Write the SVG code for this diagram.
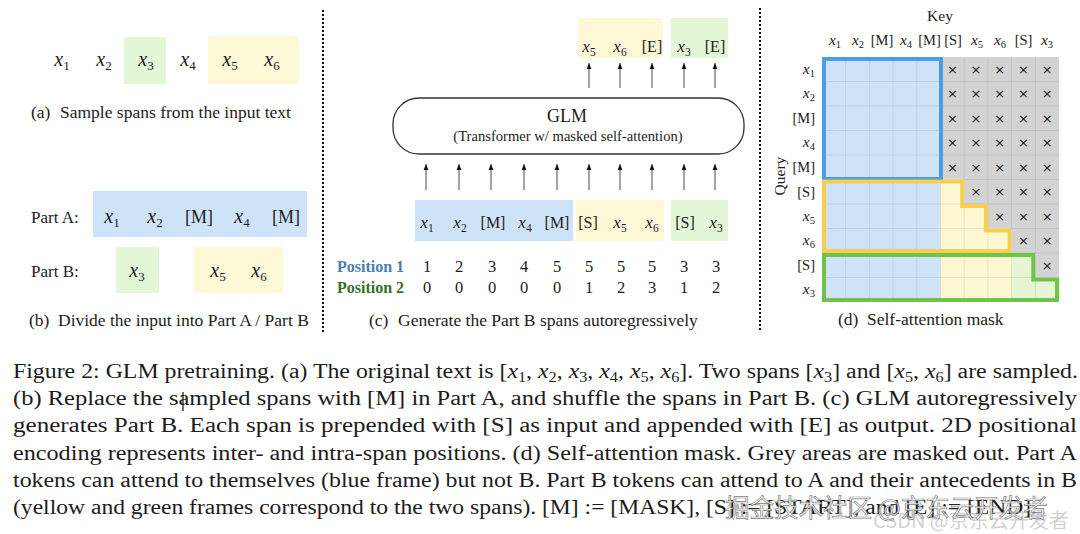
<svg xmlns="http://www.w3.org/2000/svg" width="1080" height="534" viewBox="0 0 1080 534">
<defs>
<style>
.s{font-family:"Liberation Serif","Times New Roman",serif;fill:#1c1c1c}
.i{font-style:italic}
.tk{font-size:18px;text-anchor:middle}
.tc{font-size:16px;text-anchor:middle}
.td{font-size:14.5px}
.mid{text-anchor:middle}
.end{text-anchor:end}
.lab{font-size:17px}
.sc{font-size:17.5px}
.num{font-size:16.5px;text-anchor:middle}
.cap{font-size:20.5px}
.sep{stroke:#111;stroke-width:2;stroke-dasharray:2 2;fill:none}
.arr{stroke:#666;stroke-width:1.2;fill:none;marker-end:url(#ah)}
.bl{fill:#cfe3f8}
.ye{fill:#fdf9d7}
.gr{fill:#e3f6d6}
.xm{font-family:"DejaVu Sans",sans-serif;font-size:13px;fill:#222;text-anchor:middle}
</style>
<marker id="ah" viewBox="0 0 10 10" refX="10" refY="5" markerWidth="6" markerHeight="6" markerUnits="userSpaceOnUse" orient="auto"><path d="M0,1 L10,5 L0,9 z" fill="#111"/></marker>
</defs>
<rect width="1080" height="534" fill="#fff"/>

<g id="separators">
<line class="sep" x1="323" y1="10" x2="323" y2="332"/>
<line class="sep" x1="760" y1="8" x2="760" y2="332"/>
</g>

<g id="panel-a">
<rect class="gr" x="124" y="37" width="42" height="47"/>
<rect class="ye" x="208" y="36" width="91" height="48"/>
<text class="s tk" x="62" y="66"><tspan class="i" font-size="20">x</tspan><tspan font-size="13" dy="4">1</tspan></text>
<text class="s tk" x="104" y="66"><tspan class="i" font-size="20">x</tspan><tspan font-size="13" dy="4">2</tspan></text>
<text class="s tk" x="146" y="66"><tspan class="i" font-size="20">x</tspan><tspan font-size="13" dy="4">3</tspan></text>
<text class="s tk" x="188" y="66"><tspan class="i" font-size="20">x</tspan><tspan font-size="13" dy="4">4</tspan></text>
<text class="s tk" x="230" y="66"><tspan class="i" font-size="20">x</tspan><tspan font-size="13" dy="4">5</tspan></text>
<text class="s tk" x="272" y="66"><tspan class="i" font-size="20">x</tspan><tspan font-size="13" dy="4">6</tspan></text>
<text class="s sc" x="31" y="118">(a)</text>
<text class="s sc" x="60" y="118">Sample spans from the input text</text>
</g>

<g id="panel-b">
<rect class="bl" x="93" y="191" width="214" height="46"/>
<rect class="gr" x="116" y="247" width="43" height="46"/>
<rect class="ye" x="194" y="247" width="89" height="46"/>
<text class="s lab" x="31" y="223">Part A:</text>
<text class="s lab" x="31" y="277">Part B:</text>
<text class="s tk" x="112" y="223"><tspan class="i" font-size="20">x</tspan><tspan font-size="13" dy="4">1</tspan></text>
<text class="s tk" x="155" y="223"><tspan class="i" font-size="20">x</tspan><tspan font-size="13" dy="4">2</tspan></text>
<text class="s tk" x="199" y="223">[M]</text>
<text class="s tk" x="242" y="223"><tspan class="i" font-size="20">x</tspan><tspan font-size="13" dy="4">4</tspan></text>
<text class="s tk" x="286" y="223">[M]</text>
<text class="s tk" x="137" y="277"><tspan class="i" font-size="20">x</tspan><tspan font-size="13" dy="4">3</tspan></text>
<text class="s tk" x="218" y="277"><tspan class="i" font-size="20">x</tspan><tspan font-size="13" dy="4">5</tspan></text>
<text class="s tk" x="259" y="277"><tspan class="i" font-size="20">x</tspan><tspan font-size="13" dy="4">6</tspan></text>
<text class="s sc" x="29" y="326">(b)</text>
<text class="s sc" x="58" y="326">Divide the input into Part A / Part B</text>
</g>

<g id="panel-c-output">
<rect class="ye" x="578" y="18" width="85" height="40"/>
<rect class="gr" x="671" y="18" width="57" height="40"/>
<text class="s tc" x="589" y="52"><tspan class="i" font-size="17">x</tspan><tspan font-size="11.5" dy="3.5">5</tspan></text>
<text class="s tc" x="620" y="52"><tspan class="i" font-size="17">x</tspan><tspan font-size="11.5" dy="3.5">6</tspan></text>
<text class="s tc" x="652" y="52">[E]</text>
<text class="s tc" x="684" y="52"><tspan class="i" font-size="17">x</tspan><tspan font-size="11.5" dy="3.5">3</tspan></text>
<text class="s tc" x="715" y="52">[E]</text>
</g>

<g id="glm">
<rect x="393" y="98" width="351" height="56" rx="26" ry="26" fill="#fff" stroke="#333" stroke-width="1.3"/>
<text class="s mid" x="567" y="122" font-size="18">GLM</text>
<text class="s mid" x="568" y="141" font-size="14.6">(Transformer w/ masked self-attention)</text>
</g>

<g id="connectors">
<line class="arr" x1="589" y1="88" x2="589" y2="63"/>
<line class="arr" x1="620" y1="88" x2="620" y2="63"/>
<line class="arr" x1="652" y1="88" x2="652" y2="63"/>
<line class="arr" x1="684" y1="88" x2="684" y2="63"/>
<line class="arr" x1="715" y1="88" x2="715" y2="63"/>
<line class="arr" x1="426" y1="190" x2="426" y2="164"/>
<line class="arr" x1="459" y1="190" x2="459" y2="164"/>
<line class="arr" x1="491" y1="190" x2="491" y2="164"/>
<line class="arr" x1="524" y1="190" x2="524" y2="164"/>
<line class="arr" x1="557" y1="190" x2="557" y2="164"/>
<line class="arr" x1="589" y1="190" x2="589" y2="164"/>
<line class="arr" x1="620" y1="190" x2="620" y2="164"/>
<line class="arr" x1="652" y1="190" x2="652" y2="164"/>
<line class="arr" x1="684" y1="190" x2="684" y2="164"/>
<line class="arr" x1="715" y1="190" x2="715" y2="164"/>
</g>

<g id="panel-c-input">
<rect class="bl" x="415" y="200" width="158" height="41"/>
<rect class="ye" x="576" y="200" width="88" height="41"/>
<rect class="gr" x="671" y="200" width="57" height="41"/>
<text class="s tc" x="427" y="228"><tspan class="i" font-size="17">x</tspan><tspan font-size="11.5" dy="3.5">1</tspan></text>
<text class="s tc" x="460" y="228"><tspan class="i" font-size="17">x</tspan><tspan font-size="11.5" dy="3.5">2</tspan></text>
<text class="s tc" x="493" y="228">[M]</text>
<text class="s tc" x="525" y="228"><tspan class="i" font-size="17">x</tspan><tspan font-size="11.5" dy="3.5">4</tspan></text>
<text class="s tc" x="557" y="228">[M]</text>
<text class="s tc" x="588" y="228">[S]</text>
<text class="s tc" x="620" y="228"><tspan class="i" font-size="17">x</tspan><tspan font-size="11.5" dy="3.5">5</tspan></text>
<text class="s tc" x="652" y="228"><tspan class="i" font-size="17">x</tspan><tspan font-size="11.5" dy="3.5">6</tspan></text>
<text class="s tc" x="685" y="228">[S]</text>
<text class="s tc" x="716" y="228"><tspan class="i" font-size="17">x</tspan><tspan font-size="11.5" dy="3.5">3</tspan></text>
</g>

<g id="positions">
<text x="337" y="272" font-family="Liberation Serif, serif" font-weight="bold" font-size="16" fill="#4a7db3">Position 1</text>
<text x="337" y="293" font-family="Liberation Serif, serif" font-weight="bold" font-size="16" fill="#37702a">Position 2</text>
<text class="s num" x="427" y="272">1</text><text class="s num" x="459" y="272">2</text><text class="s num" x="492" y="272">3</text><text class="s num" x="524" y="272">4</text><text class="s num" x="557" y="272">5</text><text class="s num" x="589" y="272">5</text><text class="s num" x="621" y="272">5</text><text class="s num" x="652" y="272">5</text><text class="s num" x="684" y="272">3</text><text class="s num" x="716" y="272">3</text>
<text class="s num" x="427" y="293">0</text><text class="s num" x="459" y="293">0</text><text class="s num" x="492" y="293">0</text><text class="s num" x="524" y="293">0</text><text class="s num" x="557" y="293">0</text><text class="s num" x="589" y="293">1</text><text class="s num" x="621" y="293">2</text><text class="s num" x="652" y="293">3</text><text class="s num" x="684" y="293">1</text><text class="s num" x="716" y="293">2</text>
<text class="s sc" x="369" y="326">(c)</text>
<text class="s sc" x="398" y="326">Generate the Part B spans autoregressively</text>
</g>

<g id="panel-d-mask">
<rect class="bl" x="822" y="57" width="118.5" height="245"/>
<path fill="#d3d3d3" d="M940.5,57 H1059 V277.5 H1035.3 V253 H1011.6 V228.5 H987.9 V204 H964.2 V179.5 H940.5 Z"/>
<path fill="#fdf8d2" d="M940.5,179.5 H964.2 V204 H987.9 V228.5 H1011.6 V302 H940.5 Z"/>
<path fill="#e4f6d4" d="M1011.6,253 H1035.3 V277.5 H1059 V302 H1011.6 Z"/>
<path stroke="#000" stroke-opacity="0.08" stroke-width="1" fill="none" d="M845.7,57V302 M869.4,57V302 M893.1,57V302 M916.8,57V302 M940.5,57V302 M964.2,57V302 M987.9,57V302 M1011.6,57V302 M1035.3,57V302 M822,81.5H1059 M822,106H1059 M822,130.5H1059 M822,155H1059 M822,179.5H1059 M822,204H1059 M822,228.5H1059 M822,253H1059 M822,277.5H1059"/>
<text class="xm" x="952.35 976.05 999.75 1023.45 1047.15" y="73.75">×××××</text>
<text class="xm" x="952.35 976.05 999.75 1023.45 1047.15" y="98.25">×××××</text>
<text class="xm" x="952.35 976.05 999.75 1023.45 1047.15" y="122.75">×××××</text>
<text class="xm" x="952.35 976.05 999.75 1023.45 1047.15" y="147.25">×××××</text>
<text class="xm" x="952.35 976.05 999.75 1023.45 1047.15" y="171.75">×××××</text>
<text class="xm" x="976.05 999.75 1023.45 1047.15" y="196.25">××××</text>
<text class="xm" x="999.75 1023.45 1047.15" y="220.75">×××</text>
<text class="xm" x="1023.45 1047.15" y="245.25">××</text>
<text class="xm" x="1047.15" y="269.75">×</text>
<rect x="824" y="59" width="117" height="120" fill="none" stroke="#4b9de6" stroke-width="4"/>
<path fill="none" stroke="#f6cf4e" stroke-width="4" d="M824,181.5 H962.2 V206 H985.9 V230.5 H1009.6 V251 H824 Z"/>
<path fill="none" stroke="#70c24b" stroke-width="4" d="M824,255 H1033.3 V279.5 H1057 V300 H824 Z"/>
</g>

<g id="panel-d-labels">
<text class="s mid" x="940" y="21" font-size="15.5">Key</text>
<text class="s td mid" x="835" y="45"><tspan class="i" font-size="15.5">x</tspan><tspan font-size="10.5" dy="3">1</tspan></text>
<text class="s td mid" x="858" y="45"><tspan class="i" font-size="15.5">x</tspan><tspan font-size="10.5" dy="3">2</tspan></text>
<text class="s td mid" x="882" y="45">[M]</text>
<text class="s td mid" x="906" y="45"><tspan class="i" font-size="15.5">x</tspan><tspan font-size="10.5" dy="3">4</tspan></text>
<text class="s td mid" x="929.5" y="45">[M]</text>
<text class="s td mid" x="953" y="45">[S]</text>
<text class="s td mid" x="977" y="45"><tspan class="i" font-size="15.5">x</tspan><tspan font-size="10.5" dy="3">5</tspan></text>
<text class="s td mid" x="1000" y="45"><tspan class="i" font-size="15.5">x</tspan><tspan font-size="10.5" dy="3">6</tspan></text>
<text class="s td mid" x="1023.5" y="45">[S]</text>
<text class="s td mid" x="1047" y="45"><tspan class="i" font-size="15.5">x</tspan><tspan font-size="10.5" dy="3">3</tspan></text>
<text class="s td end" x="815" y="73.5"><tspan class="i" font-size="15.5">x</tspan><tspan font-size="10.5" dy="3">1</tspan></text>
<text class="s td end" x="815" y="98"><tspan class="i" font-size="15.5">x</tspan><tspan font-size="10.5" dy="3">2</tspan></text>
<text class="s td end" x="815" y="123">[M]</text>
<text class="s td end" x="815" y="147"><tspan class="i" font-size="15.5">x</tspan><tspan font-size="10.5" dy="3">4</tspan></text>
<text class="s td end" x="815" y="172">[M]</text>
<text class="s td end" x="815" y="196.5">[S]</text>
<text class="s td end" x="815" y="220.5"><tspan class="i" font-size="15.5">x</tspan><tspan font-size="10.5" dy="3">5</tspan></text>
<text class="s td end" x="815" y="245"><tspan class="i" font-size="15.5">x</tspan><tspan font-size="10.5" dy="3">6</tspan></text>
<text class="s td end" x="815" y="270">[S]</text>
<text class="s td end" x="815" y="294"><tspan class="i" font-size="15.5">x</tspan><tspan font-size="10.5" dy="3">3</tspan></text>
<text class="s mid" font-size="15.5" transform="translate(785,176) rotate(-90)">Query</text>
<text class="s sc" x="838" y="325">(d)</text>
<text class="s sc" x="867" y="325">Self-attention mask</text>
</g>

<g id="caption">
<text class="s cap" x="13" y="378" textLength="1065" lengthAdjust="spacingAndGlyphs">Figure 2: GLM pretraining. (a) The original text is [<tspan class="i">x</tspan><tspan font-size="14" dy="4">1</tspan><tspan dy="-4">, </tspan><tspan class="i">x</tspan><tspan font-size="14" dy="4">2</tspan><tspan dy="-4">, </tspan><tspan class="i">x</tspan><tspan font-size="14" dy="4">3</tspan><tspan dy="-4">, </tspan><tspan class="i">x</tspan><tspan font-size="14" dy="4">4</tspan><tspan dy="-4">, </tspan><tspan class="i">x</tspan><tspan font-size="14" dy="4">5</tspan><tspan dy="-4">, </tspan><tspan class="i">x</tspan><tspan font-size="14" dy="4">6</tspan><tspan dy="-4">]. Two spans [</tspan><tspan class="i">x</tspan><tspan font-size="14" dy="4">3</tspan><tspan dy="-4">] and [</tspan><tspan class="i">x</tspan><tspan font-size="14" dy="4">5</tspan><tspan dy="-4">, </tspan><tspan class="i">x</tspan><tspan font-size="14" dy="4">6</tspan><tspan dy="-4">] are sampled.</tspan></text>
<text class="s cap" x="13" y="405" textLength="1064" lengthAdjust="spacingAndGlyphs">(b) Replace the sampled spans with [M] in Part A, and shuffle the spans in Part B. (c) GLM autoregressively</text>
<line x1="183" y1="392" x2="183" y2="411" stroke="#111" stroke-width="1.2"/>
<text class="s cap" x="13" y="432" textLength="1064" lengthAdjust="spacingAndGlyphs">generates Part B. Each span is prepended with [S] as input and appended with [E] as output.  2D positional</text>
<text class="s cap" x="13" y="460" textLength="1064" lengthAdjust="spacingAndGlyphs">encoding represents inter- and intra-span positions. (d) Self-attention mask. Grey areas are masked out. Part A</text>
<text class="s cap" x="13" y="487" textLength="1064" lengthAdjust="spacingAndGlyphs">tokens can attend to themselves (blue frame) but not B. Part B tokens can attend to A and their antecedents in B</text>
<text class="s cap" x="13" y="514" textLength="1024" lengthAdjust="spacingAndGlyphs">(yellow and green frames correspond to the two spans). [M] := [MASK], [S] := [START], and [E] := [END].</text>
</g>

<g id="watermark">
<text x="725" y="517" font-family="Noto Sans CJK SC, sans-serif" font-size="24.5" fill="#fff" fill-opacity="0.8" stroke="#555" stroke-width="0.7" stroke-opacity="0.8">掘金技术社区 @京东云开发者</text>
<text x="873" y="528" font-family="Noto Sans CJK SC, sans-serif" font-size="20" fill="#aaa" fill-opacity="0.55">CSDN @京东云开发者</text>
</g>
</svg>
